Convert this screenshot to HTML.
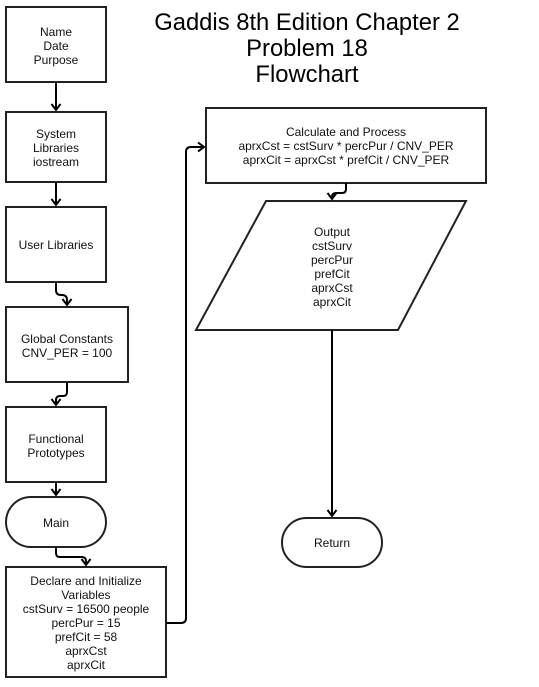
<!DOCTYPE html>
<html><head><meta charset="utf-8"><style>
html,body{margin:0;padding:0;background:#fff;}
svg{display:block;}
text{font-family:"Liberation Sans",Arial,sans-serif;font-size:12px;fill:#111;text-anchor:middle;}
.t{font-size:23.8px;fill:#000;}
</style></head><body>
<svg width="539" height="687" viewBox="0 0 539 687" xmlns="http://www.w3.org/2000/svg">
<defs><marker id="a" markerWidth="12" markerHeight="12" refX="7" refY="6" orient="auto" markerUnits="userSpaceOnUse"><path d="M1,1.5 L7,6 L1,10.5" fill="none" stroke="#000" stroke-width="2"/></marker></defs>
<g fill="#fff" stroke="#222" stroke-width="2">
<rect x="6" y="7" width="100" height="75"/>
<rect x="6" y="112" width="100" height="70"/>
<rect x="6" y="207" width="100" height="75"/>
<rect x="6" y="307" width="122" height="75"/>
<rect x="6" y="407" width="100" height="75"/>
<rect x="6" y="497" width="100" height="50" rx="25"/>
<rect x="6" y="567" width="160" height="110"/>
<rect x="206" y="108" width="280" height="75"/>
<polygon points="266,201 466,201 398,330 196,330"/>
<rect x="282" y="518" width="100" height="49" rx="24.5"/>
</g>
<g fill="none" stroke="#000" stroke-width="2">
<path d="M56,82 V110" marker-end="url(#a)"/>
<path d="M56,182 V205" marker-end="url(#a)"/>
<path d="M56,282 V290 Q56,295 61,295 H62 Q67,295 67,300 V305" marker-end="url(#a)"/>
<path d="M67,382 V392 Q67,396 63,396 H60 Q56,396 56,400 V405" marker-end="url(#a)"/>
<path d="M56,482 V495" marker-end="url(#a)"/>
<path d="M56,547 V553 Q56,557 60,557 H82 Q86,557 86,561 V565" marker-end="url(#a)"/>
<path d="M166,623 H181 Q186,623 186,618 V152 Q186,147 191,147 H204" marker-end="url(#a)"/>
<path d="M346,183 V189 Q346,193 342,193 H336 Q332,193 332,197 V199" marker-end="url(#a)"/>
<path d="M332,330 V516" marker-end="url(#a)"/>
</g>
<text class="t" x="307" y="30">Gaddis 8th Edition Chapter 2</text>
<text class="t" x="307" y="56">Problem 18</text>
<text class="t" x="307" y="82">Flowchart</text>
<text x="56" y="36">Name</text><text x="56" y="50">Date</text><text x="56" y="64">Purpose</text>
<text x="56" y="138">System</text><text x="56" y="152">Libraries</text><text x="56" y="166">iostream</text>
<text x="56" y="249">User Libraries</text>
<text x="67" y="343">Global Constants</text><text x="67" y="357">CNV_PER = 100</text>
<text x="56" y="443">Functional</text><text x="56" y="457">Prototypes</text>
<text x="56" y="527">Main</text>
<text x="86" y="585">Declare and Initialize</text><text x="86" y="599">Variables</text><text x="86" y="613">cstSurv = 16500 people</text><text x="86" y="627">percPur = 15</text><text x="86" y="641">prefCit = 58</text><text x="86" y="655">aprxCst</text><text x="86" y="669">aprxCit</text>
<text x="346" y="136">Calculate and Process</text><text x="346" y="150">aprxCst = cstSurv * percPur / CNV_PER</text><text x="346" y="164">aprxCit = aprxCst * prefCit / CNV_PER</text>
<text x="332" y="236">Output</text><text x="332" y="250">cstSurv</text><text x="332" y="264">percPur</text><text x="332" y="278">prefCit</text><text x="332" y="292">aprxCst</text><text x="332" y="306">aprxCit</text>
<text x="332" y="547">Return</text>
</svg>
</body></html>
